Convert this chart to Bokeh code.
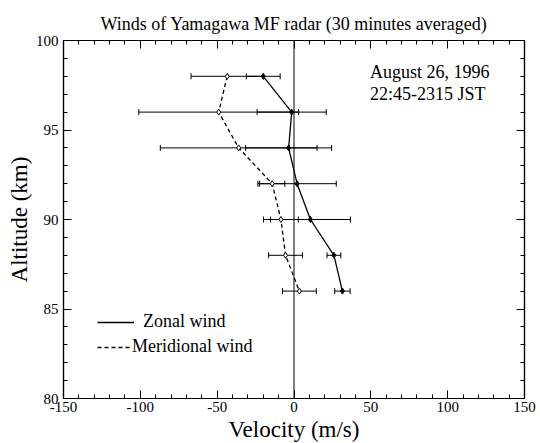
from bokeh.plotting import figure
from bokeh.models import (ColumnDataSource, Whisker, TeeHead, Span, Label, Legend,
                          LegendItem, LinearAxis, SingleIntervalTicker, Range1d,
                          CustomJSTickFormatter, Title)
from bokeh.embed import file_html
from bokeh.resources import INLINE

# ---- data ----
altitude = [98, 96, 94, 92, 90, 88, 86]
zonal = [-20.0, -1.5, -3.5, 2.0, 10.7, 26.0, 31.5]
zonal_err = [11.0, 22.5, 28.0, 25.5, 26.0, 4.5, 5.0]
meridional = [-43.5, -49.0, -36.0, -14.2, -8.5, -5.5, 3.5]
meridional_err = [23.5, 52.0, 51.0, 8.2, 11.3, 11.0, 11.0]

x_tick_step = 50
y_tick_step = 5

title_text = "Winds of Yamagawa MF radar (30 minutes averaged)"
x_label = "Velocity (m/s)"
y_label = "Altitude (km)"
date_text = "August 26, 1996"
time_text = "22:45-2315 JST"

FONT = "Liberation Serif"
X0, X1, Y0, Y1 = -150, 150, 80, 100

zs = ColumnDataSource(dict(y=altitude, x=zonal,
                           lo=[v - e for v, e in zip(zonal, zonal_err)],
                           hi=[v + e for v, e in zip(zonal, zonal_err)]))
ms = ColumnDataSource(dict(y=altitude, x=meridional,
                           lo=[v - e for v, e in zip(meridional, meridional_err)],
                           hi=[v + e for v, e in zip(meridional, meridional_err)]))

p = figure(width=540, height=443, output_backend="svg", toolbar_location=None,
           x_range=Range1d(X0, X1), y_range=Range1d(Y0, Y1),
           x_axis_location=None, y_axis_location=None,
           min_border_left=63, min_border_right=16, min_border_top=40, min_border_bottom=45)

p.background_fill_color = "white"
p.border_fill_color = "white"
p.outline_line_color = "black"
p.outline_line_width = 1.2
p.xgrid.visible = False
p.ygrid.visible = False

p.title.text = title_text
p.title.align = "center"
p.title.text_font = FONT
p.title.text_font_size = "18px"
p.title.text_font_style = "normal"
p.title.text_color = "black"
p.title.standoff = 14

blank = CustomJSTickFormatter(code="return ''")
plain = CustomJSTickFormatter(code="return tick.toFixed(0)")


def make_axis(interval, labelled):
    a = LinearAxis(ticker=SingleIntervalTicker(interval=interval, num_minor_ticks=5),
                   formatter=plain if labelled else blank,
                   major_label_standoff=0,
                   major_tick_in=8, major_tick_out=0, minor_tick_in=4, minor_tick_out=0,
                   axis_line_color="black", axis_line_width=1.2,
                   major_tick_line_color="black", minor_tick_line_color="black")
    if labelled:
        a.major_label_text_font = FONT
        a.major_label_text_font_size = "15px"
        a.major_label_text_color = "black"
    return a


xb = make_axis(x_tick_step, True)
xb.major_label_standoff = 3
yl = make_axis(y_tick_step, True)
yl.major_label_standoff = 5
p.add_layout(xb, "below")
p.add_layout(yl, "left")
p.add_layout(make_axis(x_tick_step, False), "above")
p.add_layout(make_axis(y_tick_step, False), "right")

# axis titles as Title panels (serif font honoured)
p.add_layout(Title(text=x_label, align="center", text_font=FONT, text_font_size="23px",
                   text_font_style="normal", text_color="black", standoff=0), "below")
p.add_layout(Title(text=y_label, align="center", text_font=FONT, text_font_size="23px",
                   text_font_style="normal", text_color="black", standoff=2), "left")

# zero line
p.add_layout(Span(location=0, dimension="height", line_color="black", line_width=1))

# error bars
for src in (zs, ms):
    w = Whisker(source=src, base="y", lower="lo", upper="hi", dimension="width",
                line_color="black", line_width=1,
                lower_head=TeeHead(size=6, line_color="black", line_width=1),
                upper_head=TeeHead(size=6, line_color="black", line_width=1))
    p.add_layout(w)

zl = p.line("x", "y", source=zs, line_color="black", line_width=1.3)
p.scatter("x", "y", source=zs, marker="diamond", size=6, fill_color="black", line_color="black")
ml = p.line("x", "y", source=ms, line_color="black", line_width=1.3, line_dash="4 3")
p.scatter("x", "y", source=ms, marker="diamond", size=6, fill_color="white", line_color="black")

# annotations
p.add_layout(Label(x=49.5, y=98.25, text=date_text, text_font=FONT, text_font_size="18px",
                   text_color="black", text_baseline="middle"))
p.add_layout(Label(x=49.5, y=97.0, text=time_text, text_font=FONT, text_font_size="18px",
                   text_color="black", text_baseline="middle"))

# legends (two, to mimic different gaps)
for item_r, name, gw, st, yloc in ((zl, "Zonal wind", 37, 9, 66),
                                   (ml, "Meridional wind", 33, 2, 41)):
    lg = Legend(items=[LegendItem(label=name, renderers=[item_r])],
                location=(34, yloc), glyph_width=gw, glyph_height=20,
                label_standoff=st, label_text_font=FONT, label_text_font_size="18px",
                label_text_color="black", padding=0, margin=0, spacing=0,
                border_line_color=None, background_fill_alpha=0, label_height=20)
    p.add_layout(lg)

open("out.html", "w").write(file_html(p, INLINE))
